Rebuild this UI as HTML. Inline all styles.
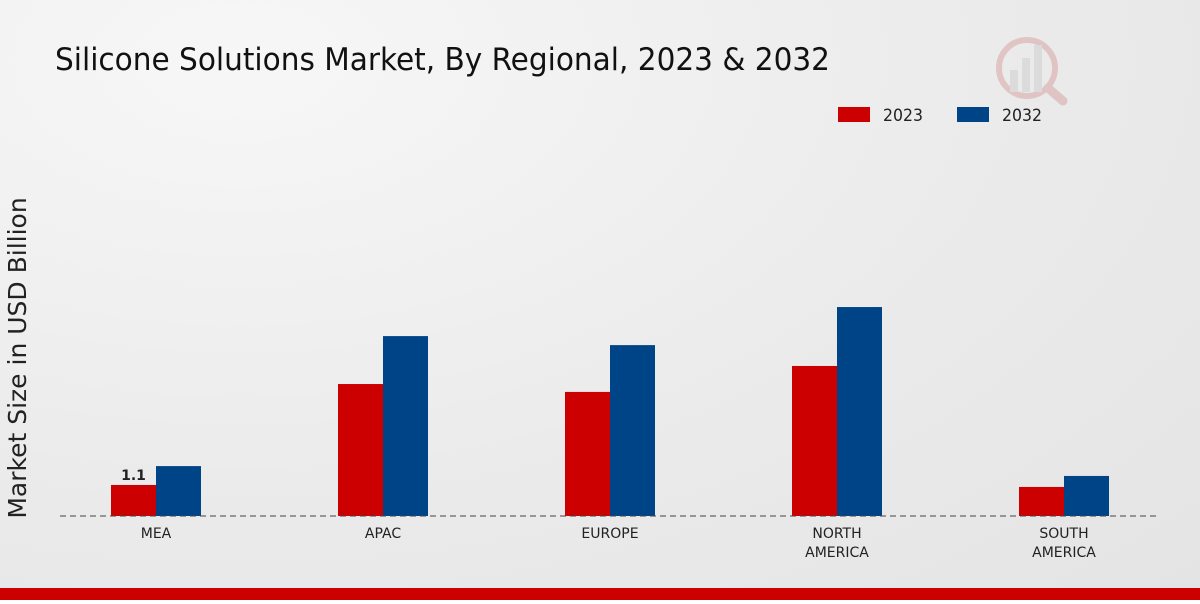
<!DOCTYPE html>
<html><head><meta charset="utf-8"><style>
body{margin:0;width:1200px;height:600px;overflow:hidden;font-family:"DejaVu Sans","Liberation Sans",sans-serif;}
#wrap{position:relative;width:1200px;height:600px;background:radial-gradient(ellipse at 20% 10%,#f7f7f7 0%,#ebebeb 55%,#e4e4e4 100%);}
</style></head><body>
<div id="wrap">
<svg id="chart" width="1200" height="600">
<text x="55" y="70" font-size="31" fill="#111" font-family="'DejaVu Sans Condensed','Liberation Sans Narrow','Liberation Sans',sans-serif" textLength="775" lengthAdjust="spacingAndGlyphs">Silicone Solutions Market, By Regional, 2023 &amp; 2032</text>
<g>
<rect x="838" y="107" width="32" height="15" fill="#cc0000"/>
<text x="883" y="121" font-size="17" fill="#222" textLength="40" lengthAdjust="spacingAndGlyphs">2023</text>
<rect x="957" y="107" width="32" height="15" fill="#004488"/>
<text x="1002" y="121" font-size="17" fill="#222" textLength="40" lengthAdjust="spacingAndGlyphs">2032</text>
</g>
<text transform="translate(26,358) rotate(-90)" text-anchor="middle" font-size="25" fill="#222">Market Size in USD Billion</text>
<g id="bars"></g>
<line x1="60" y1="516" x2="1160" y2="516" stroke="#444" stroke-dasharray="6,4"/>
<g id="labels"></g>
<g opacity="0.35">
<circle cx="1027" cy="68" r="28" fill="none" stroke="#d08080" stroke-width="6"/>
<rect x="1010" y="70" width="8" height="22" fill="#c0c0c0"/>
<rect x="1022" y="58" width="8" height="34" fill="#c0c0c0"/>
<rect x="1034" y="45" width="8" height="47" fill="#c0c0c0"/>
<line x1="1048" y1="88" x2="1063" y2="101" stroke="#d08080" stroke-width="9" stroke-linecap="round"/>
</g>
<rect x="0" y="588" width="1200" height="12" fill="#cc0000"/>
</svg>
</div>
<script>
const categories=["MEA","APAC","EUROPE","NORTH\nAMERICA","SOUTH\nAMERICA"];
const values2023=[1.1,4.68,4.4,5.32,1.03];
const values2032=[1.77,6.38,6.06,7.41,1.42];
const NS="http://www.w3.org/2000/svg";
const baseY=516, pxPerUnit=28.2, x0=156, step=227, bw=45;
const yScale=v=>baseY-v*pxPerUnit;
const xScale=i=>x0+i*step;
const bars=document.getElementById('bars'), labels=document.getElementById('labels');
categories.forEach((c,i)=>{
  [[values2023,'#cc0000',-bw,'2023'],[values2032,'#004488',0,'2032']].forEach(([arr,col,off,yr])=>{
    const r=document.createElementNS(NS,'rect');
    const y=yScale(arr[i]);
    r.setAttribute('x',xScale(i)+off);r.setAttribute('y',y);
    r.setAttribute('width',bw);r.setAttribute('height',baseY-y);r.setAttribute('fill',col);
    
    
    bars.appendChild(r);
  });
  c.split('\n').forEach((ln,k)=>{
    const t=document.createElementNS(NS,'text');
    t.setAttribute('x',xScale(i));t.setAttribute('y',538+k*19);
    t.setAttribute('text-anchor','middle');t.setAttribute('font-size','14');t.setAttribute('fill','#222');
    t.textContent=ln;
    
    
    labels.appendChild(t);
  });
});
const vl=document.createElementNS(NS,'text');
vl.setAttribute('x',xScale(0)-bw/2);vl.setAttribute('y',yScale(values2023[0])-5);
vl.setAttribute('text-anchor','middle');vl.setAttribute('font-size','14');vl.setAttribute('font-weight','bold');vl.setAttribute('fill','#222');
vl.textContent=values2023[0];


labels.appendChild(vl);
</script>
</body></html>
